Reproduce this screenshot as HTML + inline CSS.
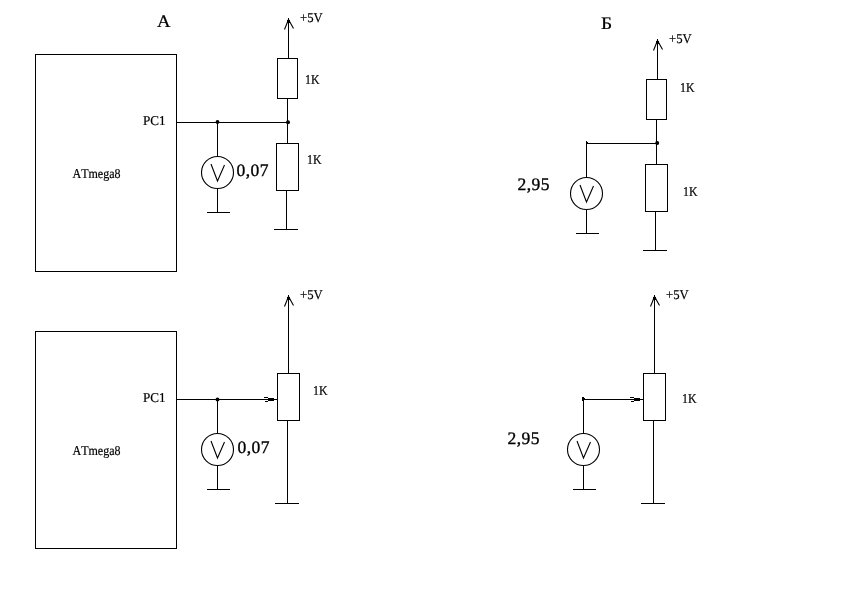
<!DOCTYPE html>
<html><head><meta charset="utf-8"><style>
html,body{margin:0;padding:0;background:#fff;}
svg{display:block;will-change:transform;}
text{font-family:"Liberation Serif",serif;fill:#000;stroke:#000;stroke-width:0.2px;text-rendering:geometricPrecision;font-kerning:none;}
text.b{stroke-width:0.35px;}
</style></head><body>
<svg width="861" height="589" viewBox="0 0 861 589">
<rect width="861" height="589" fill="#fff"/>
<g fill="#000">
<text transform="translate(157,27) scale(1.04,0.98)" font-size="18">A</text>
<rect x="35" y="54" width="142" height="1"/>
<rect x="35" y="271" width="142" height="1"/>
<rect x="35" y="54" width="1" height="218"/>
<rect x="176" y="54" width="1" height="218"/>
<text transform="translate(143,125) scale(0.97,1)" font-size="13.5" class="s">PC1</text>
<text transform="translate(72.5,178) scale(0.89,1)" font-size="13.5" class="s">ATmega8</text>
<rect x="176" y="122" width="112" height="1"/>
<circle cx="217.5" cy="122" r="1.9"/>
<circle cx="288" cy="122.2" r="2"/>
<rect x="217" y="122" width="1" height="35"/>
<circle cx="217.5" cy="172.5" r="16" fill="none" stroke="#000" stroke-width="1.1"/>
<path d="M211,164 L217.5,181 L224.5,165" fill="none" stroke="#000" stroke-width="1.1"/>
<rect x="217" y="189" width="1" height="24"/>
<rect x="207" y="212" width="23" height="1"/>
<text x="236.5" y="175.6" font-size="17.5" class="b" letter-spacing="0.45">0,07</text>
<rect x="287" y="20" width="3" height="3"/>
<path d="M284.5,29.5 L288.5,19.5 L293.5,28.5" fill="none" stroke="#000" stroke-width="1.1"/>
<rect x="288" y="18" width="1" height="41"/>
<rect x="277" y="58" width="21" height="1"/>
<rect x="277" y="98" width="21" height="1"/>
<rect x="277" y="58" width="1" height="41"/>
<rect x="297" y="58" width="1" height="41"/>
<rect x="287" y="98" width="1" height="46"/>
<rect x="276" y="143" width="23" height="1"/>
<rect x="276" y="190" width="23" height="1"/>
<rect x="276" y="143" width="1" height="48"/>
<rect x="298" y="143" width="1" height="48"/>
<rect x="286" y="190" width="1" height="40"/>
<rect x="274" y="229" width="24" height="1"/>
<text transform="translate(300,22) scale(0.94,1)" font-size="13.5" class="s">+5V</text>
<text transform="translate(305,84) scale(0.88,1)" font-size="13.5" class="s">1K</text>
<text transform="translate(307,164) scale(0.88,1)" font-size="13.5" class="s">1K</text>
<rect x="35" y="331" width="142" height="1"/>
<rect x="35" y="548" width="142" height="1"/>
<rect x="35" y="331" width="1" height="218"/>
<rect x="176" y="331" width="1" height="218"/>
<text transform="translate(143,402) scale(0.97,1)" font-size="13.5" class="s">PC1</text>
<text transform="translate(72.5,455) scale(0.89,1)" font-size="13.5" class="s">ATmega8</text>
<rect x="176" y="399" width="102" height="1"/>
<circle cx="217.5" cy="399.5" r="2"/>
<rect x="264" y="397" width="4" height="1"/><rect x="268" y="398" width="6" height="3"/><rect x="265" y="401" width="3" height="1"/>
<rect x="217" y="399" width="1" height="35"/>
<circle cx="217.5" cy="449.5" r="16" fill="none" stroke="#000" stroke-width="1.1"/>
<path d="M211,441 L217.5,458 L224.5,442" fill="none" stroke="#000" stroke-width="1.1"/>
<rect x="217" y="466" width="1" height="24"/>
<rect x="207" y="489" width="23" height="1"/>
<text x="237.5" y="452.6" font-size="17.5" class="b" letter-spacing="0.45">0,07</text>
<rect x="287" y="297" width="3" height="3"/>
<path d="M284.5,306.5 L288.5,296.5 L293.5,305.5" fill="none" stroke="#000" stroke-width="1.1"/>
<rect x="288" y="295" width="1" height="79"/>
<rect x="277" y="373" width="23" height="1"/>
<rect x="277" y="420" width="23" height="1"/>
<rect x="277" y="373" width="1" height="48"/>
<rect x="299" y="373" width="1" height="48"/>
<rect x="287" y="420" width="1" height="84"/>
<rect x="275" y="503" width="24" height="1"/>
<text transform="translate(300,299) scale(0.94,1)" font-size="13.5" class="s">+5V</text>
<text transform="translate(313,395) scale(0.88,1)" font-size="13.5" class="s">1K</text>
<text transform="translate(601,29) scale(1.08,0.98)" font-size="18">Б</text>
<rect x="656" y="41" width="3" height="3"/>
<path d="M653.5,50.5 L657.5,40.5 L662.5,49.5" fill="none" stroke="#000" stroke-width="1.1"/>
<rect x="657" y="39" width="1" height="41"/>
<rect x="646" y="79" width="21" height="1"/>
<rect x="646" y="119" width="21" height="1"/>
<rect x="646" y="79" width="1" height="41"/>
<rect x="666" y="79" width="1" height="41"/>
<rect x="656" y="119" width="1" height="46"/>
<circle cx="657.2" cy="143" r="2"/>
<rect x="586" y="143" width="71" height="1"/>
<rect x="586" y="141" width="1" height="37"/>
<rect x="587" y="142" width="1" height="1"/>
<circle cx="586.5" cy="193.5" r="16" fill="none" stroke="#000" stroke-width="1.1"/>
<path d="M580,185 L586.5,202 L593.5,186" fill="none" stroke="#000" stroke-width="1.1"/>
<rect x="586" y="210" width="1" height="24"/>
<rect x="576" y="233" width="23" height="1"/>
<rect x="645" y="164" width="23" height="1"/>
<rect x="645" y="211" width="23" height="1"/>
<rect x="645" y="164" width="1" height="48"/>
<rect x="667" y="164" width="1" height="48"/>
<rect x="655" y="211" width="1" height="40"/>
<rect x="643" y="250" width="24" height="1"/>
<text x="517.5" y="189.6" font-size="17.5" class="b" letter-spacing="0.45">2,95</text>
<text transform="translate(669,43) scale(0.94,1)" font-size="13.5" class="s">+5V</text>
<text transform="translate(680,92) scale(0.88,1)" font-size="13.5" class="s">1K</text>
<text transform="translate(683,196) scale(0.88,1)" font-size="13.5" class="s">1K</text>
<rect x="653" y="297" width="3" height="3"/>
<path d="M650.5,306.5 L654.5,296.5 L659.5,305.5" fill="none" stroke="#000" stroke-width="1.1"/>
<rect x="654" y="295" width="1" height="79"/>
<rect x="643" y="373" width="23" height="1"/>
<rect x="643" y="420" width="23" height="1"/>
<rect x="643" y="373" width="1" height="48"/>
<rect x="665" y="373" width="1" height="48"/>
<rect x="653" y="420" width="1" height="84"/>
<rect x="641" y="503" width="24" height="1"/>
<rect x="583" y="399" width="61" height="1"/>
<rect x="630" y="397" width="4" height="1"/><rect x="634" y="398" width="6" height="3"/><rect x="631" y="401" width="3" height="1"/>
<rect x="582" y="397" width="2" height="4"/><rect x="584" y="398" width="1" height="1"/>
<rect x="583" y="399" width="1" height="35"/>
<circle cx="583.5" cy="449.5" r="16" fill="none" stroke="#000" stroke-width="1.1"/>
<path d="M577,441 L583.5,458 L590.5,442" fill="none" stroke="#000" stroke-width="1.1"/>
<rect x="583" y="466" width="1" height="24"/>
<rect x="573" y="489" width="23" height="1"/>
<text x="507.5" y="443.6" font-size="17.5" class="b" letter-spacing="0.45">2,95</text>
<text transform="translate(666,299) scale(0.94,1)" font-size="13.5" class="s">+5V</text>
<text transform="translate(682,403) scale(0.88,1)" font-size="13.5" class="s">1K</text>
</g>
</svg>
</body></html>
